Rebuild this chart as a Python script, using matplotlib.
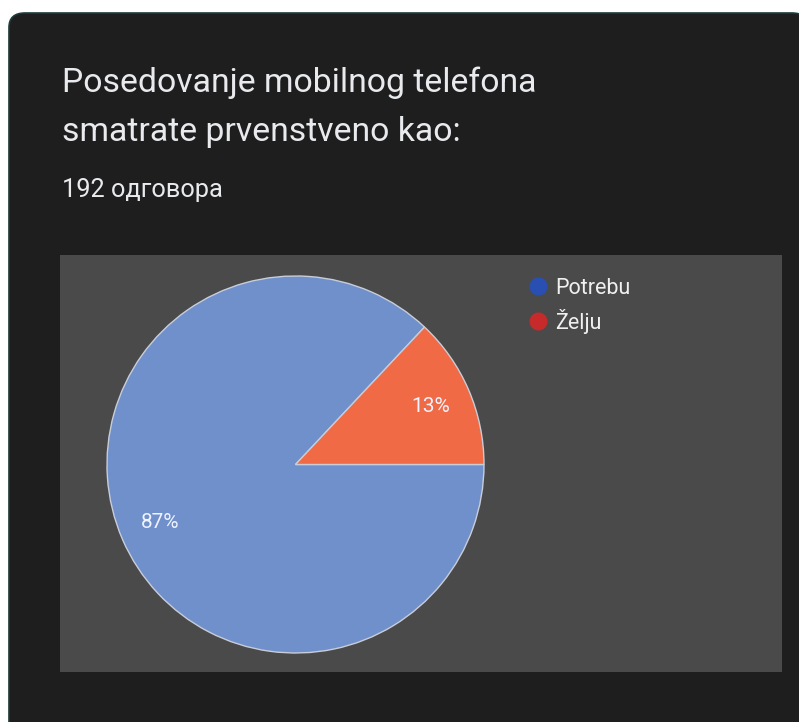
import matplotlib.pyplot as plt
from matplotlib.patches import FancyBboxPatch
from matplotlib.lines import Line2D

# survey answers
labels = ['Potrebu', 'Želju']
values = [87, 13]
pie_colors = ['#7090cc', '#f06a45']
legend_colors = ['#2a4fb3', '#c62a2a']

title_lines = ['Posedovanje mobilnog telefona', 'smatrate prvenstveno kao:']
subtitle = '192 одговора'

plt.rcParams['font.family'] = ['Roboto', 'DejaVu Sans']

W, H = 799, 722
fig = plt.figure(figsize=(W / 100, H / 100), dpi=100)
fig.patch.set_facecolor('white')

# dark card behind everything
card = FancyBboxPatch((9 / W, -0.05), 1.0, (H - 13) / H + 0.05,
                      boxstyle='round,pad=0,rounding_size=0.02',
                      transform=fig.transFigure, facecolor='#1e1e1e',
                      edgecolor='#1d3b3a', linewidth=1.2, zorder=-5)
fig.patches.append(card)

fig.text(62 / W, 1 - 92 / H, title_lines[0], color='#e8eaed', fontsize=24.3,
         va='baseline', ha='left')
fig.text(62 / W, 1 - 141 / H, title_lines[1], color='#e8eaed', fontsize=24.3,
         va='baseline', ha='left')
fig.text(62 / W, 1 - 197 / H, subtitle, color='#e8eaed', fontsize=18.3,
         va='baseline', ha='left')

# chart area
ax = fig.add_axes([60 / W, 1 - 672 / H, (782 - 60) / W, (672 - 255) / H])
ax.pie(values, colors=pie_colors, startangle=360 * values[1] / 100,
       counterclock=True, autopct='%1.0f%%', pctdistance=0.78,
       frame=True,
       wedgeprops=dict(edgecolor='#c8cdd8', linewidth=1.0),
       textprops=dict(color='#eef3ff', fontsize=15))
ax.set_facecolor('#4a4a4a')
for s in ax.spines.values():
    s.set_visible(False)
ax.set_xticks([])
ax.set_yticks([])
r = 188.5
cx, cy = 295.5, 464.5
ax.set_aspect('auto')
ax.set_xlim(-(cx - 60) / r, (782 - cx) / r)
ax.set_ylim(-(672 - cy) / r, (cy - 255) / r)

handles = [Line2D([], [], marker='o', linestyle='none', markersize=12,
                  markerfacecolor=c, markeredgecolor=c) for c in legend_colors]
leg = fig.legend(handles, labels, loc='upper left',
                 bbox_to_anchor=(527 / W, 1 - 278 / H), frameon=False,
                 fontsize=15.5, labelcolor='#f0f0f0', handlelength=1.0,
                 handletextpad=0.3, labelspacing=0.45, borderpad=0,
                 borderaxespad=0)

fig.savefig('out.png', dpi=100, facecolor=fig.get_facecolor())
